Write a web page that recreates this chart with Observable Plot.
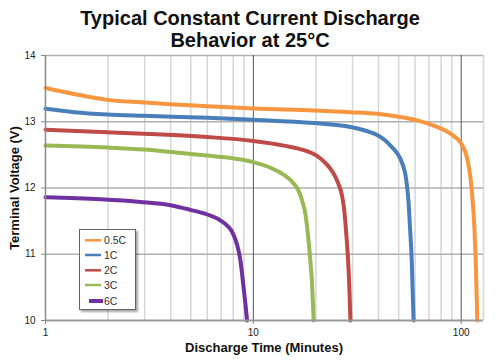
<!DOCTYPE html>
<html>
<head>
<meta charset="utf-8">
<script src="https://cdn.jsdelivr.net/npm/d3@7"></script>
<script src="https://cdn.jsdelivr.net/npm/@observablehq/plot@0.6"></script>
<style>
  html, body { margin: 0; padding: 0; background: #fff; }
  #wrap { position: relative; width: 500px; height: 360px; font-family: "Liberation Sans", Arial, Helvetica, sans-serif; }
  #wrap svg { position: absolute; left: 0; top: 0; }
  .title { position: absolute; left: 0; top: 7px; width: 500px; text-align: center; font-size: 20px; font-weight: bold; line-height: 22px; color: #111; }
  .xlab { position: absolute; left: 45px; width: 438px; top: 341px; text-align: center; font-size: 13px; font-weight: bold; line-height: 13px; color: #111; }
  .ylab { position: absolute; left: -118.5px; top: 180.5px; width: 265px; height: 14px; line-height: 14px; text-align: center; font-size: 13px; font-weight: bold; color: #111; transform: rotate(-90deg); }
  .legend { position: absolute; left: 79px; top: 229px; width: 55px; height: 79px; border: 1px solid #666; background: #fff; box-shadow: 2px 2px 2px rgba(0,0,0,0.35); }
</style>
</head>
<body>
<div id="wrap">
  <div class="title">Typical Constant Current Discharge<br>Behavior at 25°C</div>
  <div class="ylab">Terminal Voltage (V)</div>
  <div class="xlab">Discharge Time (Minutes)</div>
</div>
<script>
// ---- data ----
const seriesNames = ["0.5C", "1C", "2C", "3C", "6C"];
const seriesColors = ["#F7963F", "#4A7EBB", "#BE4B48", "#98B954", "#7030A0"];

const t05 = [1, 1.37, 1.98, 2.97, 4.14, 6.0, 10, 19.5, 29.3, 39.4, 49.2, 61.4, 73.8, 88.7, 100, 105, 108.7, 111.5, 113.5, 115.7, 117.4, 119.5];
const v05 = [13.51, 13.42, 13.33, 13.29, 13.26, 13.235, 13.20, 13.17, 13.145, 13.12, 13.08, 13.02, 12.94, 12.82, 12.67, 12.53, 12.33, 12.08, 11.8, 11.41, 10.91, 10.0];

const t1 = [1, 1.37, 1.98, 2.97, 6, 10, 19.5, 29.3, 35, 39.4, 43, 46, 49, 51, 52.6, 53.9, 55, 55.9, 56.6, 57.8, 59];
const v1 = [13.195, 13.145, 13.11, 13.09, 13.06, 13.03, 12.98, 12.92, 12.86, 12.80, 12.72, 12.63, 12.53, 12.44, 12.33, 12.2, 12.0, 11.75, 11.45, 10.91, 10.0];

const t2 = [1, 1.98, 2.97, 4.14, 6, 10, 14, 17.5, 20.3, 22, 23.5, 24.6, 25.6, 26.4, 27.0, 27.5, 28.0, 28.5, 29.0, 29.3];
const v2 = [12.88, 12.84, 12.82, 12.80, 12.77, 12.71, 12.64, 12.57, 12.48, 12.39, 12.29, 12.19, 12.07, 11.95, 11.8, 11.6, 11.3, 10.96, 10.45, 10.0];

const t3 = [1, 1.98, 2.97, 4.14, 6, 7.48, 10, 12, 14, 15.5, 16.5, 17.2, 17.7, 18.3, 18.8, 19.2, 19.5];
const v3 = [12.64, 12.61, 12.58, 12.54, 12.49, 12.46, 12.39, 12.31, 12.20, 12.08, 11.96, 11.8, 11.65, 11.3, 10.9, 10.5, 10.0];

const t6 = [1, 1.84, 2.86, 4.0, 4.98, 6.0, 6.95, 7.5, 7.9, 8.2, 8.45, 8.65, 8.9, 9.16, 9.33];
const v6 = [11.86, 11.83, 11.79, 11.74, 11.67, 11.60, 11.51, 11.43, 11.34, 11.22, 11.08, 10.92, 10.60, 10.25, 10.0];

const xTicks = [1, 10, 100];
const xMinorGrid = [2, 3, 4, 5, 6, 7, 8, 9, 20, 30, 40, 50, 60, 70, 80, 90];
const xMajorGrid = [10, 100];
const xDomain = [1, 128];
const yTicks = [10, 11, 12, 13, 14];
const yGrid = [11, 12, 13, 14];
const yDomain = [10, 14];

// ---- build table ----
const times = [t05, t1, t2, t3, t6];
const volts = [v05, v1, v2, v3, v6];
const rows = [];
seriesNames.forEach((name, i) => {
  times[i].forEach((t, j) => rows.push({series: name, t, v: volts[i][j]}));
});

const chart = Plot.plot({
  width: 500,
  height: 360,
  marginLeft: 45,
  marginRight: 17,
  marginTop: 55,
  marginBottom: 40,
  style: {fontFamily: "'Liberation Sans', Arial, sans-serif", fontSize: "10px", color: "#222", background: "transparent"},
  x: {type: "log", domain: xDomain, label: null},
  y: {domain: yDomain, label: null},
  color: {domain: seriesNames, range: seriesColors},
  marks: [
    Plot.ruleX(xMinorGrid, {stroke: "#d6d6d6", strokeWidth: 1.5}),
    Plot.ruleX([xDomain[1]], {stroke: "#d6d6d6", strokeWidth: 1.5}),
    Plot.ruleY(yGrid, {stroke: "#b0b0b0", strokeWidth: 1.3}),
    Plot.ruleX(xMajorGrid, {stroke: "#555", strokeWidth: 1}),
    Plot.line(rows, {x: "t", y: "v", z: "series", stroke: "series", strokeWidth: 4, curve: "monotone-x", strokeLinejoin: "round"}),
    Plot.ruleX([xDomain[0]], {stroke: "#8a8a8a", strokeWidth: 1.5}),
    Plot.ruleY([yDomain[0]], {stroke: "#999", strokeWidth: 2}),
    Plot.axisY({ticks: yTicks, tickSize: 4, tickPadding: 6, stroke: "#888", tickFormat: d => String(d)}),
    Plot.axisX({ticks: xTicks, tickSize: 4, tickPadding: 4, stroke: "#888", tickFormat: d => String(d)})
  ]
});
document.getElementById("wrap").prepend(chart);

// ---- legend ----
const leg = d3.select("#wrap").append("div").attr("class", "legend");
const lsvg = leg.append("svg").attr("width", 55).attr("height", 79).style("position", "static");
const ly = [10.3, 25, 40.3, 55, 71];
seriesNames.forEach((name, i) => {
  const thick = i === 4;
  lsvg.append("line")
    .attr("x1", thick ? 9 : 5).attr("x2", thick ? 23 : 21)
    .attr("y1", ly[i]).attr("y2", ly[i])
    .attr("stroke", seriesColors[i]).attr("stroke-width", thick ? 4 : 2.5);
  lsvg.append("text")
    .attr("x", 24).attr("y", ly[i]).attr("dy", "0.36em")
    .attr("font-size", 10.5).attr("fill", "#333")
    .attr("font-family", "'Liberation Sans', Arial, sans-serif")
    .text(name);
});
</script>
</body>
</html>
